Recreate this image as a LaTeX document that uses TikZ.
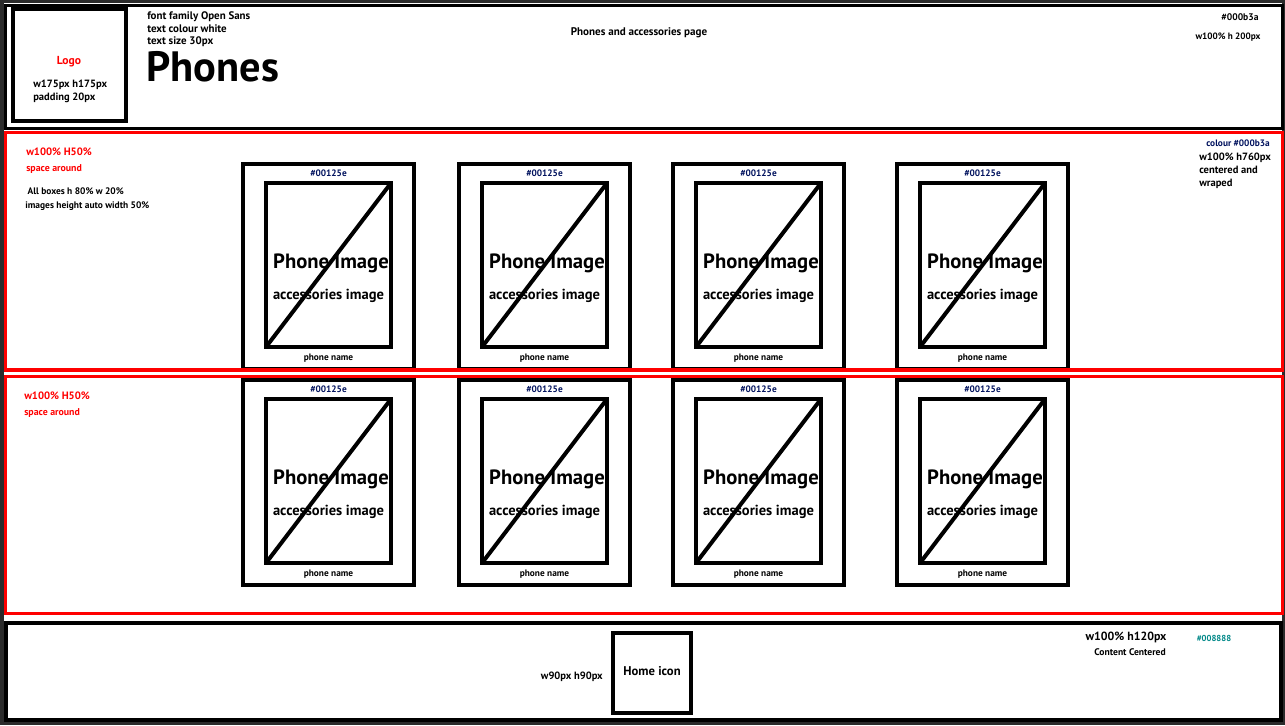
\documentclass[tikz,border=0pt]{standalone}
\usepackage{fontspec}
\setmainfont{PT Sans}
\usetikzlibrary{positioning}
\definecolor{frameGrey}{RGB}{43,43,43}
\definecolor{navyTxt}{RGB}{0,18,94}
\definecolor{tealTxt}{RGB}{0,136,136}
\tikzset{
  lbl/.style={inner sep=0.75pt, font=\bfseries\fontsize{8}{9.5}\selectfont},
  redlbl/.style={lbl, color=red},
  wirebox/.style={line width=3pt},
  section/.style={draw=red, line width=2.6pt},
}
\begin{document}
\begin{tikzpicture}[x=0.75pt,y=0.75pt,yscale=-1,xscale=1]
\useasboundingbox (0,0) rectangle (1285,725);
%page frame
\fill [frameGrey] (0,0) rectangle (1285,725);
\fill [white] (4,3) rectangle (1282,722);

%Header [#000b3a]
\draw [line width=2.25pt] (5,5) rectangle (1282,128.5);
\draw [wirebox] (13,9) rectangle (126,121);
% Text Node
\draw (69,62) node [redlbl, font=\bfseries\fontsize{8.7}{10}\selectfont] (logo) {Logo};
% Text Node
\draw (32,91.5) node [anchor=west, lbl, align=left, font=\bfseries\fontsize{7.9}{9.5}\selectfont] (logosize) {w175px h175px\\padding 20px};
% Text Node
\draw (146,29.5) node [anchor=west, lbl, align=left, font=\bfseries\fontsize{8.2}{9.4}\selectfont] (fontnote) {font family Open Sans\\text colour white\\text size 30px};
% Text Node
\draw (145,67) node [anchor=west, inner sep=0.75pt, font=\bfseries\fontsize{31.8}{34}\selectfont] (title) {Phones};
% Text Node
\draw (639,33) node [lbl, font=\bfseries\fontsize{8.3}{10}\selectfont] (pagename) {Phones and accessories page};
% Text Node
\draw (1240,17) node [lbl, font=\bfseries\fontsize{7.2}{8.6}\selectfont] (headcol) {\#000b3a};
% Text Node
\draw (1228,37) node [lbl, font=\bfseries\fontsize{6.9}{8.6}\selectfont] (headsize) {w100\% h 200px};

%Phone cards
\foreach \cx/\cn in {241/a,457/b,671/c,895/d}{
  \foreach \cy/\rn in {162/1,378/2}{
    \draw [wirebox] (\cx+2,\cy+2) rectangle (\cx+173,\cy+207);
    \draw [wirebox] (\cx+25,\cy+21) rectangle (\cx+150,\cy+185);
    \draw [wirebox] (\cx+25,\cy+185) -- (\cx+150,\cy+21);
    \draw (\cx+87.5,\cy+11) node [lbl, color=navyTxt, font=\bfseries\fontsize{7}{8}\selectfont] (hex\cn\rn) {\#00125e};
    \draw (\cx+90,\cy+101) node [inner sep=0.75pt, font=\bfseries\fontsize{15.5}{17}\selectfont] (img\cn\rn) {Phone Image};
    \draw (\cx+87.5,\cy+134) node [inner sep=0.75pt, font=\bfseries\fontsize{10.9}{12}\selectfont] (acc\cn\rn) {accessories image};
    \draw (\cx+87.5,\cy+196) node [lbl, font=\bfseries\fontsize{7}{8}\selectfont] (pname\cn\rn) {phone name};
  }
}

%Row sections
\draw [section] (5.5,132.5) rectangle (1282.5,370);
\draw [section] (5.5,376.5) rectangle (1282.5,613.5);
% Text Node
\draw (25,152) node [anchor=west, redlbl, font=\bfseries\fontsize{8}{10}\selectfont] (rowone) {w100\% H50\%};
% Text Node
\draw (25,169) node [anchor=west, redlbl, font=\bfseries\fontsize{7.4}{8}\selectfont] (spaceone) {space around};
% Text Node
\draw (24,199) node [anchor=west, lbl, align=left, font=\bfseries\fontsize{7.1}{10.5}\selectfont] (boxnote) {\ All boxes h 80\% w 20\%\\images height auto width 50\%};
% Text Node
\draw (1271,143) node [anchor=east, lbl, color=navyTxt, font=\bfseries\fontsize{7}{8}\selectfont] (rowcol) {colour \#000b3a};
% Text Node
\draw (1198,171) node [anchor=west, lbl, align=left, font=\bfseries\fontsize{7.9}{9.7}\selectfont] (rowsize) {w100\% h760px\\centered and\\wraped};
% Text Node
\draw (23,396) node [anchor=west, redlbl, font=\bfseries\fontsize{8}{10}\selectfont] (rowtwo) {w100\% H50\%};
% Text Node
\draw (23,413) node [anchor=west, redlbl, font=\bfseries\fontsize{7.4}{8}\selectfont] (spacetwo) {space around};

%Footer [#008888]
\draw [wirebox] (6,623) rectangle (1281,720);
\draw [wirebox] (613,633) rectangle (691,713);
% Text Node
\draw (652,671) node [lbl, font=\bfseries\fontsize{9.5}{11}\selectfont] (home) {Home icon};
% Text Node
\draw (604,677) node [anchor=east, lbl, font=\bfseries\fontsize{7.9}{9.5}\selectfont] (homesize) {w90px h90px};
% Text Node
\draw (1126,637) node [lbl, font=\bfseries\fontsize{8.9}{10}\selectfont] (footsize) {w100\% h120px};
% Text Node
\draw (1167,652) node [anchor=east, lbl, font=\bfseries\fontsize{7.2}{8}\selectfont] (footnote) {Content Centered};
% Text Node
\draw (1214,638) node [lbl, color=tealTxt, font=\bfseries\fontsize{6.5}{8}\selectfont] (footcol) {\#008888};

\end{tikzpicture}
\end{document}
